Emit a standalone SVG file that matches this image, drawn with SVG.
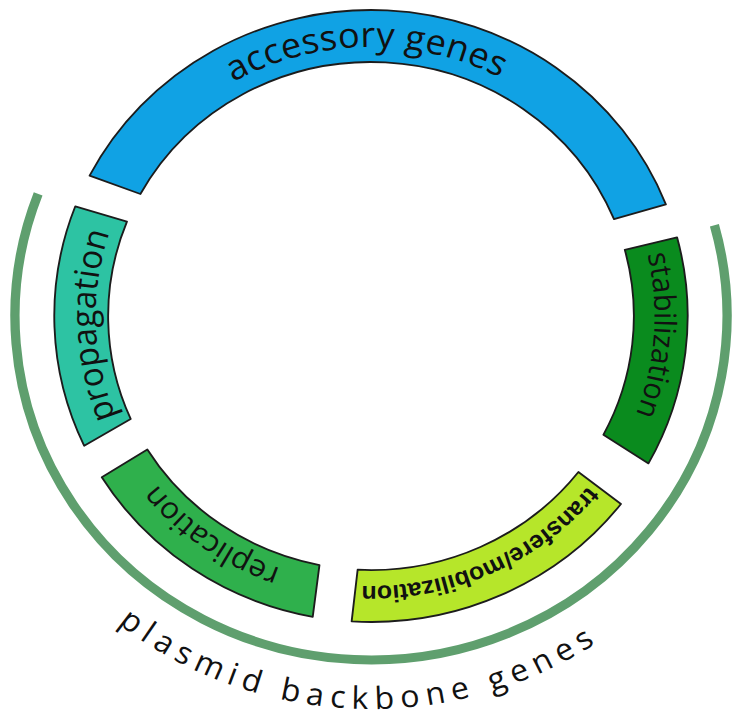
<svg xmlns="http://www.w3.org/2000/svg" width="735" height="722" viewBox="0 0 735 722">
  <style>
    .seg { stroke: #1c1c1c; stroke-width: 1.8; stroke-linejoin: round; }
    .lbl { font-family: "Open Sans", "Noto Sans", sans-serif; fill: #111; }
    .bold { font-family: "Liberation Sans", Arial, sans-serif; font-weight: bold; fill: #111; }
  </style>
  <defs>
    <path id="cw269" d="M 0 269 A 269 269 0 1 1 0 -269 A 269 269 0 1 1 0 269"/>
    <path id="cw266" d="M 0 266 A 266 266 0 1 1 0 -266 A 266 266 0 1 1 0 266"/>
    <path id="cw274" d="M 0 274 A 274 274 0 1 1 0 -274 A 274 274 0 1 1 0 274"/>
    <path id="cw270" d="M 0 270 A 270 270 0 1 1 0 -270 A 270 270 0 1 1 0 270"/>
    <path id="cw267" d="M 0 267 A 267 267 0 1 1 0 -267 A 267 267 0 1 1 0 267"/>
    <path id="ccw393" d="M 0 -393 A 393 393 0 1 0 0 393 A 393 393 0 1 0 0 -393"/>
  </defs>
  <rect width="735" height="722" fill="#ffffff"/>
  <g transform="translate(371,316) scale(1.035,1)">
    <g id="backbone">
      <path d="M 331.8 -90.8 A 344 344 0 1 1 -321.6 -122.2" fill="none" stroke="#5f9f6e" stroke-width="9"/>
      <g transform="rotate(2)">
        <text class="lbl" font-size="31" letter-spacing="6.5"><textPath href="#ccw393" startOffset="50%" text-anchor="middle">plasmid backbone genes</textPath></text>
      </g>
    </g>
    <g id="accessory">
      <path class="seg" fill="#10a2e4" d="M -271.9 -140.3 A 306 306 0 0 1 284.9 -111.7 L 234.8 -96.8 A 254 254 0 0 0 -222.8 -122.0 Z"/>
      <g transform="rotate(-1)">
        <text class="lbl" font-size="35" letter-spacing="0.3"><textPath href="#cw269" startOffset="50%" text-anchor="middle">accessory genes</textPath></text>
      </g>
    </g>
    <g id="stabilization">
      <path class="seg" fill="#0a8b1e" d="M 295.7 -78.7 A 306 306 0 0 1 268.1 147.4 L 224.5 118.8 A 254 254 0 0 0 245.2 -66.2 Z"/>
      <g transform="rotate(94)">
        <text class="lbl" font-size="29"><textPath href="#cw274" startOffset="50%" text-anchor="middle">stabilization</textPath></text>
      </g>
    </g>
    <g id="transfer">
      <path class="seg" fill="#b6e62a" d="M 241.5 188.0 A 306 306 0 0 1 -18.7 305.4 L -12.9 253.7 A 254 254 0 0 0 200.4 156.0 Z"/>
      <g transform="rotate(155.5)">
        <text class="bold" font-size="24"><textPath href="#cw270" startOffset="50%" text-anchor="middle">transfere/mobilization</textPath></text>
      </g>
    </g>
    <g id="replication">
      <path class="seg" fill="#2fb04c" d="M -56.3 300.8 A 306 306 0 0 1 -260.1 161.3 L -216.1 133.5 A 254 254 0 0 0 -49.8 249.1 Z"/>
      <g transform="rotate(215)">
        <text class="lbl" font-size="30"><textPath href="#cw267" startOffset="50%" text-anchor="middle">replication</textPath></text>
      </g>
    </g>
    <g id="propagation">
      <path class="seg" fill="#2dc3a3" d="M -277.1 129.8 A 306 306 0 0 1 -285.7 -109.7 L -235.8 -94.3 A 254 254 0 0 0 -232.2 102.9 Z"/>
      <g transform="rotate(-92)">
        <text class="lbl" font-size="33"><textPath href="#cw266" startOffset="50%" text-anchor="middle">propagation</textPath></text>
      </g>
    </g>
  </g>
  <g id="connectors"/>
</svg>
